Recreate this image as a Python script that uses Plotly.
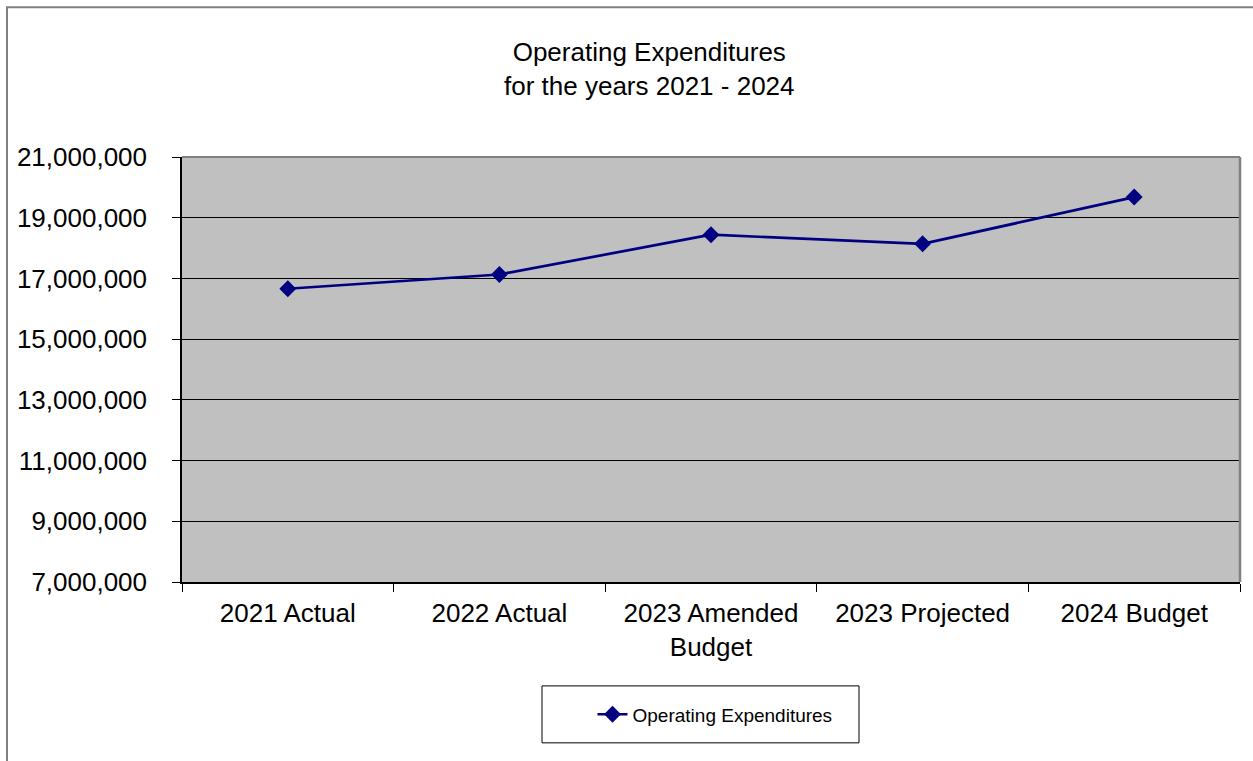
import plotly.graph_objects as go

categories = ["2021 Actual", "2022 Actual", "2023 Amended<br>Budget", "2023 Projected", "2024 Budget"]
values = [16660000, 17130000, 18440000, 18140000, 19680000]
series_name = "Operating Expenditures"
y_ticks = [7000000, 9000000, 11000000, 13000000, 15000000, 17000000, 19000000, 21000000]

fig = go.Figure()
fig.add_trace(go.Scatter(
    x=categories, y=values, name=series_name, mode="lines+markers",
    line=dict(color="#000080", width=2.7),
    marker=dict(symbol="diamond", size=13, color="#000080"),
    showlegend=True,
))

FONT = "Liberation Sans, Arial, sans-serif"

fig.update_layout(
    width=1253, height=761,
    margin=dict(l=182, r=13, t=157, b=179),
    paper_bgcolor="white", plot_bgcolor="#C0C0C0",
    font=dict(family=FONT, color="black"),
    showlegend=True,
    legend=dict(x=0.388, y=-0.3115, xanchor="left", yanchor="middle",
                font=dict(size=19, family=FONT), bgcolor="rgba(0,0,0,0)",
                borderwidth=0),
    xaxis=dict(
        showline=True, linecolor="black", linewidth=1.5,
        ticks="outside", ticklen=8, tickcolor="black", tickson="boundaries",
        showgrid=False, tickfont=dict(size=26, family=FONT),
        ticklabelstandoff=7,
        range=[-0.5, 4.5],
    ),
    yaxis=dict(
        range=[7000000, 21000000], tickvals=y_ticks, tickformat=",",
        showline=True, linecolor="black", linewidth=1.5,
        ticks="outside", ticklen=8, tickcolor="black",
        showgrid=True, gridcolor="black", gridwidth=1, zeroline=False,
        tickfont=dict(size=26, family=FONT), ticklabelstandoff=20,
    ),
    annotations=[dict(
        text="Operating Expenditures<br>for the years 2021 - 2024",
        xref="paper", yref="paper", x=0.4414, y=1.207,
        xanchor="center", yanchor="middle", showarrow=False,
        font=dict(size=26, family=FONT),
    )],
    shapes=[
        # outer chart border
        dict(type="rect", xref="paper", yref="paper", x0=-0.1654, x1=1.2, y0=-0.6, y1=1.3524,
             line=dict(color="#808080", width=2), layer="below"),
        # plot-area top/right border
        dict(type="line", xref="paper", yref="paper", x0=0, x1=1, y0=1, y1=1,
             line=dict(color="#808080", width=2)),
        dict(type="line", xref="paper", yref="paper", x0=1, x1=1, y0=0, y1=1,
             line=dict(color="#808080", width=2.5)),
        # legend box
        dict(type="rect", xref="paper", yref="paper",
             x0=(542 - 182) / 1058, x1=(859 - 182) / 1058,
             y0=(582 - 743) / 425.4, y1=(582 - 686) / 425.4,
             line=dict(color="black", width=1)),
    ],
)

fig.write_html("out.html")
